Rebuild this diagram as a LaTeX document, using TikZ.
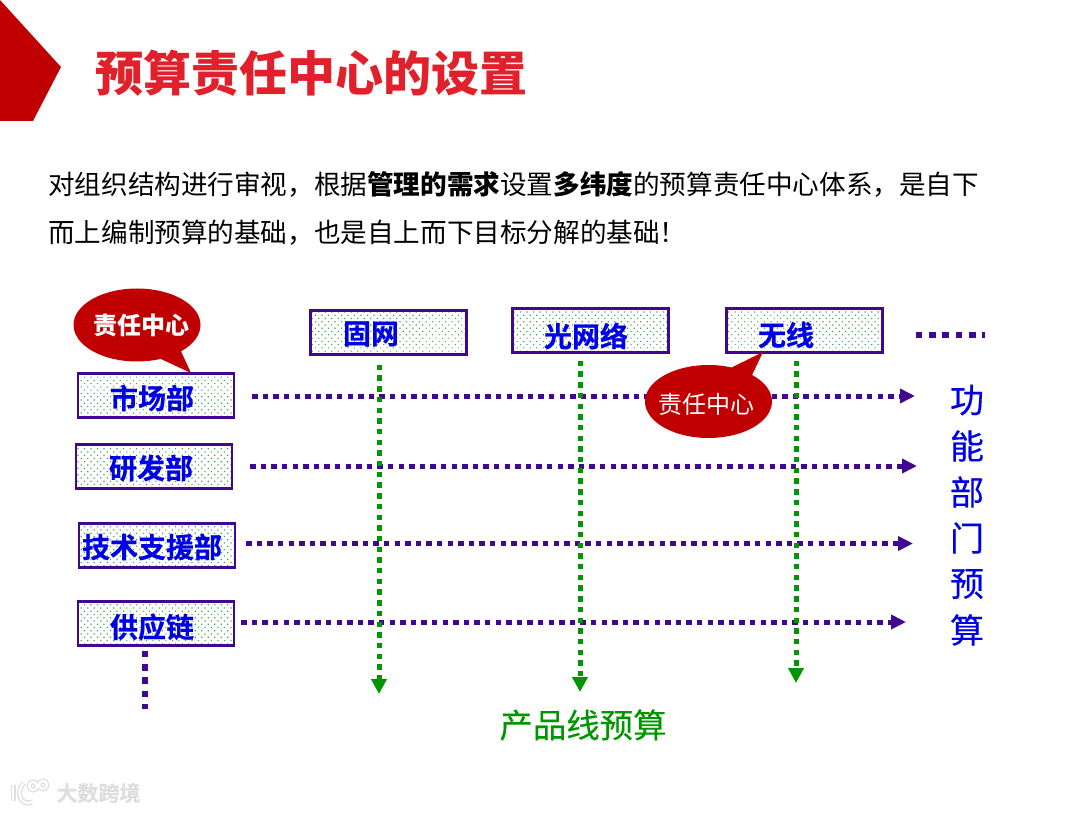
\documentclass[tikz,border=0pt]{standalone}
\usepackage{fontspec}
\setmainfont{Noto Sans CJK SC}
\newfontfamily\heavyfont[FakeBold=0.6]{Noto Sans CJK SC Bold}
\newfontfamily\semifont[FakeBold=0.25]{Noto Sans CJK SC}
\usetikzlibrary{
  arrows.meta,
  patterns.meta,
  shapes.geometric,
  shapes.callouts
}
\definecolor{redcolor}{RGB}{192, 0, 0}
\definecolor{titlecolor}{RGB}{224, 32, 42}
\definecolor{purplecolor}{RGB}{64, 8, 144}
\definecolor{bluecolor}{RGB}{0, 0, 230}
\definecolor{greencolor}{RGB}{0, 150, 0}
\definecolor{dotcolor}{RGB}{70, 165, 90}
\definecolor{marklabel}{RGB}{222, 222, 222}
\begin{document}
\begin{tikzpicture}[
    x=1pt, y=-1pt,
    % Styles
    title/.style={anchor=west, inner sep=0pt, font=\fontsize{48}{48}\selectfont\bfseries, text=titlecolor},
    bodytext/.style={anchor=west, inner sep=0pt, font=\fontsize{26.6}{26.6}\selectfont},
    unitbox/.style={
        rectangle,
        draw=purplecolor,
        line width=2.4pt,
        pattern={Dots[radius=0.85pt, distance=4.6pt, angle=45]},
        pattern color=dotcolor,
        minimum width=156pt,
        minimum height=44pt,
        inner sep=0pt
    },
    unitlabel/.style={inner sep=0pt, font=\fontsize{28}{28}\heavyfont, text=bluecolor},
    centrecall/.style={
        ellipse callout,
        fill=redcolor,
        minimum width=127pt,
        minimum height=73pt,
        inner sep=0pt,
        callout pointer arc=22
    },
    calltext/.style={inner sep=0pt, text=white, font=\fontsize{24}{24}\selectfont},
    purpleflow/.style={
        draw=purplecolor,
        line width=5pt,
        dash pattern=on 5.4pt off 5.2pt,
        -{Triangle[length=15pt,width=14pt,sep=0pt]}
    },
    greenflow/.style={
        draw=greencolor,
        line width=5pt,
        dash pattern=on 5.4pt off 5.3pt,
        -{Triangle[length=15pt,width=15pt,sep=0pt]}
    },
    moredots/.style={draw=purplecolor, line width=6.6pt, dash pattern=on 6.6pt off 6.7pt},
    sidechar/.style={inner sep=0pt, font=\fontsize{34}{34}\semifont, text=bluecolor},
    marktext/.style={inner sep=0pt, text=marklabel, font=\fontsize{21}{21}\heavyfont}
]
\useasboundingbox (0,0) rectangle (1080,813);

% ============================================================================
% Title
% ============================================================================
\fill[redcolor] (0,0) -- (61,67) -- (33,121) -- (0,121) -- cycle;
\node[title] (heading) at (95,73) {预算责任中心的设置};
\node[bodytext] (line1) at (48,184) {对组织结构进行审视，根据\textbf{管理的需求}设置\textbf{多纬度}的预算责任中心体系，是自下};
\node[bodytext] (line2) at (48,232.5) {而上编制预算的基础，也是自上而下目标分解的基础！};

% ============================================================================
% Product lines
% ============================================================================
\node[unitbox] (guwang) at (388.5,332.5) {};
\node[unitbox] (guangwang) at (590.5,330.5) {};
\node[unitbox] (wuxian) at (804.5,330.5) {};
\node[unitlabel] at (371,334) {固网};
\node[unitlabel] at (586,336) {光网络};
\node[unitlabel] at (786,335) {无线};

% ============================================================================
% Functional departments
% ============================================================================
\node[unitbox] (shichang) at (156,395.5) {};
\node[unitbox] (yanfa) at (154,466.5) {};
\node[unitbox] (jishu) at (157,545.5) {};
\node[unitbox] (gongying) at (156,623.5) {};
\node[unitlabel] at (152,398) {市场部};
\node[unitlabel] at (151,468) {研发部};
\node[unitlabel] at (152,547) {技术支援部};
\node[unitlabel] at (152,627) {供应链};

% ============================================================================
% Flows
% ============================================================================
\coordinate (shichangend) at (915,396);
\coordinate (yanfaend) at (917,466);
\coordinate (jishuend) at (913,543.5);
\coordinate (gongyingend) at (906,622);
\coordinate (guwangend) at (379,694);
\coordinate (guangwangend) at (580,692);
\coordinate (wuxianend) at (796,683);
\coordinate (rowmore) at (985,335);
\coordinate (colmore) at (145,709);

\draw[purpleflow] (shichang.east |- shichangend) ++(17,0) -- (shichangend);
\draw[purpleflow] (yanfa.east |- yanfaend) ++(17,0) -- (yanfaend);
\draw[purpleflow] (jishu.east |- jishuend) ++(10,0) -- (jishuend);
\draw[purpleflow] (gongying.east |- gongyingend) ++(6,0) -- (gongyingend);

\draw[greenflow] (guwang.south -| guwangend) ++(0,9) -- (guwangend);
\draw[greenflow] (guangwang.south -| guangwangend) ++(0,7) -- (guangwangend);
\draw[greenflow] (wuxian.south -| wuxianend) ++(0,7) -- (wuxianend);

\draw[moredots] (wuxian.east |- rowmore) ++(32,0) -- (rowmore);
\draw[moredots] (gongying.south -| colmore) ++(0,4) -- (colmore);

% ============================================================================
% Callouts
% ============================================================================
\node[centrecall, callout absolute pointer={(191,373)}] (calltop) at (137,325) {};
\node[centrecall, callout absolute pointer={(763,352)}] (callmid) at (708.5,401.5) {};
\node[calltext, font=\fontsize{24}{24}\selectfont\bfseries] at (141,325) {责任中心};
\node[calltext] at (706,404) {责任中心};

% ============================================================================
% Side labels
% ============================================================================
\foreach \ch/\ypos in {功/400, 能/446, 部/492, 门/538, 预/584, 算/630} {
    \node[sidechar] (side\ypos) at (967,\ypos) {\ch};
}
\node[inner sep=0pt, font=\fontsize{33.4}{33.4}\semifont, text=greencolor] (product) at (583,725) {产品线预算};

% ============================================================================
% Watermark
% ============================================================================
\node[marktext] (mark) at (98.5,793) {大数跨境};
\foreach \lw/\col in {5pt/marklabel, 2.4pt/white} {
    \draw[line width=\lw, draw=\col] (13,785) -- (13,801);
    \draw[line width=\lw, draw=\col] (24,783) .. controls (16,790) and (19,807) .. (32,802);
    \draw[line width=\lw, draw=\col] (33,786) circle (4);
    \draw[line width=\lw, draw=\col] (43,785) circle (4);
}
\end{tikzpicture}
\end{document}
